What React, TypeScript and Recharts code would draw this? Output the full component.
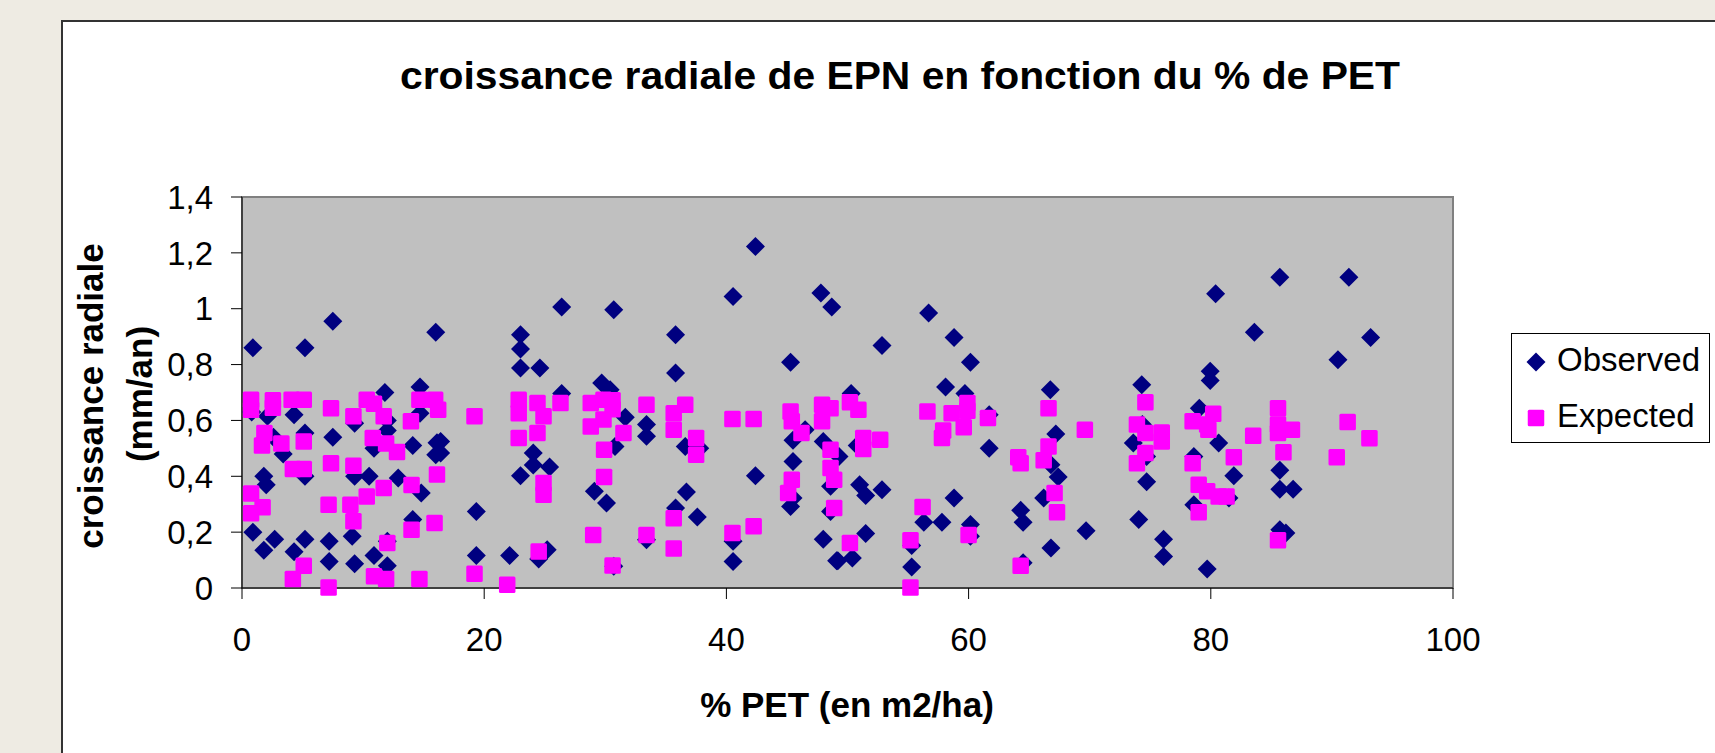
import React from "react";
import { ScatterChart, Scatter, XAxis, YAxis, CartesianGrid, ReferenceArea, Label } from "recharts";

// [% PET, croissance radiale]
const observedPoints = [
  [0.9, 0.86], [0.8, 0.63], [0.9, 0.2], [1.8, 0.4], [2.0, 0.37], [1.8, 0.135], [2.1, 0.615],
  [2.6, 0.54], [2.7, 0.175], [3.4, 0.48], [4.3, 0.62], [4.3, 0.13], [5.2, 0.86], [5.2, 0.555],
  [5.2, 0.4], [5.2, 0.175], [7.5, 0.955], [7.5, 0.54], [7.2, 0.167], [7.2, 0.095], [9.3, 0.59],
  [9.3, 0.4], [9.1, 0.185], [9.3, 0.087], [10.5, 0.4], [10.9, 0.5], [10.9, 0.116], [11.8, 0.7],
  [12.0, 0.6], [12.0, 0.564], [12.0, 0.167], [12.0, 0.08], [12.9, 0.394], [14.7, 0.72],
  [14.7, 0.626], [14.1, 0.51], [14.8, 0.34], [14.1, 0.245], [16.0, 0.916], [16.1, 0.52],
  [16.0, 0.477], [16.4, 0.525], [16.4, 0.483], [19.35, 0.274], [19.35, 0.116], [22.1, 0.116],
  [23.0, 0.907], [23.0, 0.856], [23.0, 0.788], [24.6, 0.788], [23.0, 0.402], [24.05, 0.483],
  [24.05, 0.44], [25.4, 0.433], [24.5, 0.104], [25.2, 0.137], [26.4, 1.006], [26.4, 0.696],
  [29.7, 0.734], [30.4, 0.71], [30.8, 0.507], [29.1, 0.346], [30.1, 0.304], [30.7, 0.996],
  [31.65, 0.611], [30.7, 0.078], [33.4, 0.585], [33.4, 0.543], [33.4, 0.173], [35.8, 0.907],
  [35.8, 0.77], [36.6, 0.507], [37.8, 0.5], [36.7, 0.344], [35.8, 0.286], [37.6, 0.254],
  [40.55, 1.044], [40.55, 0.167], [40.55, 0.095], [42.4, 1.223], [42.4, 0.402], [45.3, 0.808],
  [45.5, 0.529], [45.5, 0.453], [46.5, 0.567], [45.5, 0.322], [45.3, 0.292], [47.8, 1.056],
  [48.7, 1.006], [48.0, 0.525], [48.6, 0.364], [48.6, 0.274], [48.0, 0.175], [49.1, 0.098],
  [50.3, 0.696], [50.8, 0.51], [49.3, 0.471], [51.0, 0.37], [51.5, 0.331], [52.85, 0.352],
  [52.85, 0.868], [51.5, 0.195], [49.2, 0.098], [50.4, 0.107], [55.3, 0.152], [55.3, 0.075],
  [56.7, 0.985], [58.8, 0.897], [60.15, 0.808], [58.1, 0.72], [59.7, 0.696], [61.7, 0.62],
  [61.7, 0.5], [58.8, 0.322], [56.3, 0.235], [57.8, 0.235], [60.15, 0.227], [60.15, 0.185],
  [64.3, 0.278], [64.5, 0.235], [64.5, 0.09], [66.75, 0.71], [67.2, 0.551], [66.8, 0.441],
  [67.4, 0.397], [66.2, 0.322], [69.7, 0.205], [66.8, 0.143], [74.3, 0.728], [74.35, 0.585],
  [73.6, 0.519], [74.7, 0.471], [74.7, 0.38], [74.05, 0.245], [76.1, 0.175], [76.1, 0.113],
  [79.05, 0.644], [79.95, 0.776], [79.95, 0.743], [80.4, 1.054], [80.65, 0.519], [78.6, 0.471],
  [78.6, 0.298], [81.9, 0.402], [81.5, 0.322], [79.7, 0.068], [83.6, 0.916], [85.7, 1.113],
  [91.4, 1.113], [93.2, 0.897], [90.5, 0.817], [85.7, 0.422], [85.7, 0.354], [86.8, 0.354],
  [85.7, 0.209], [86.2, 0.197],
];

const expectedPoints = [
  [0.75, 0.674], [0.75, 0.638], [2.55, 0.672], [2.55, 0.645], [4.1, 0.674], [5.1, 0.674],
  [7.35, 0.644], [9.2, 0.615], [10.3, 0.674], [10.9, 0.66], [11.7, 0.615], [13.95, 0.597],
  [14.65, 0.674], [15.95, 0.674], [16.2, 0.638], [1.85, 0.555], [1.65, 0.51], [3.25, 0.517],
  [5.1, 0.525], [10.8, 0.537], [11.9, 0.517], [12.8, 0.487], [4.2, 0.426], [5.1, 0.426],
  [7.35, 0.447], [9.2, 0.438], [11.7, 0.358], [14.0, 0.369], [16.1, 0.406], [0.75, 0.338],
  [0.75, 0.268], [1.7, 0.289], [7.15, 0.298], [8.95, 0.298], [10.3, 0.328], [9.2, 0.239],
  [14.0, 0.209], [15.9, 0.233], [12.0, 0.161], [5.1, 0.08], [4.2, 0.032], [7.15, 0.002],
  [10.9, 0.042], [11.9, 0.032], [14.65, 0.032], [19.2, 0.615], [22.85, 0.674], [22.85, 0.626],
  [24.4, 0.662], [24.9, 0.615], [26.3, 0.662], [28.8, 0.662], [28.8, 0.578], [29.85, 0.674],
  [30.6, 0.672], [30.6, 0.64], [29.85, 0.603], [31.5, 0.555], [22.85, 0.537], [24.4, 0.555],
  [24.9, 0.376], [24.9, 0.334], [29.9, 0.495], [29.9, 0.397], [29.0, 0.19], [19.2, 0.051],
  [21.9, 0.012], [24.5, 0.131], [30.6, 0.081], [33.4, 0.656], [35.65, 0.626], [36.6, 0.656],
  [35.65, 0.567], [37.5, 0.537], [37.5, 0.477], [40.5, 0.605], [42.25, 0.605], [45.3, 0.632],
  [45.4, 0.597], [46.2, 0.555], [47.9, 0.656], [48.6, 0.644], [47.9, 0.597], [48.6, 0.495],
  [48.6, 0.43], [48.9, 0.388], [48.9, 0.286], [45.4, 0.388], [45.1, 0.34], [33.4, 0.19],
  [35.65, 0.25], [35.65, 0.141], [40.5, 0.197], [42.25, 0.221], [50.2, 0.665], [50.9, 0.638],
  [56.6, 0.632], [58.6, 0.626], [59.9, 0.662], [59.9, 0.635], [59.6, 0.576], [57.9, 0.564],
  [57.8, 0.537], [61.6, 0.609], [51.3, 0.537], [51.3, 0.498], [52.7, 0.531], [64.1, 0.468],
  [64.3, 0.447], [56.2, 0.29], [55.2, 0.171], [55.2, 0.002], [50.2, 0.161], [60.0, 0.19],
  [64.3, 0.08], [66.6, 0.644], [69.6, 0.567], [66.6, 0.507], [66.2, 0.457], [67.1, 0.34],
  [67.3, 0.271], [74.6, 0.665], [73.9, 0.585], [74.6, 0.555], [75.95, 0.557], [75.95, 0.525],
  [74.6, 0.483], [73.9, 0.447], [78.5, 0.597], [79.7, 0.585], [80.2, 0.624], [79.8, 0.567],
  [78.5, 0.447], [81.9, 0.468], [79.0, 0.37], [79.7, 0.346], [80.65, 0.328], [81.3, 0.328],
  [79.0, 0.271], [85.55, 0.644], [85.55, 0.585], [85.55, 0.555], [86.7, 0.567], [86.0, 0.486],
  [83.5, 0.545], [91.3, 0.594], [93.1, 0.536], [90.4, 0.468], [85.55, 0.171],
];

const xTicks = [0, 20, 40, 60, 80, 100];
const yTicks = [0, 0.2, 0.4, 0.6, 0.8, 1, 1.2, 1.4];
const seriesNames = ["Observed", "Expected"];
const chartTitle = "croissance radiale de EPN en fonction du % de PET";
const xTitle = "% PET (en m2/ha)";
const yTitle = ["croissance radiale", "(mm/an)"];

const FONT = '"Liberation Sans", Arial, sans-serif';
const NAVY = "#000080";
const MAGENTA = "#ff00ff";

const observed = observedPoints.map(([x, y]) => ({ x, y }));
const expected = expectedPoints.map(([x, y]) => ({ x, y }));

const Diamond = (props: any) => {
  const { cx, cy } = props;
  const r = 9.5;
  return <polygon points={`${cx},${cy - r} ${cx + r},${cy} ${cx},${cy + r} ${cx - r},${cy}`} fill={NAVY} />;
};

const Square = (props: any) => {
  const { cx, cy } = props;
  const s = 16.5;
  return <rect x={cx - s / 2} y={cy - s / 2} width={s} height={s} rx={1.5} fill={MAGENTA} />;
};

const fmt = (v: number) => String(v).replace(".", ",");

export default function App() {
  return (
    <div style={{ position: "absolute", left: 0, top: 0, width: 1715, height: 753, overflow: "hidden", background: "#eeebe3", fontFamily: FONT }}>
      {/* white chart box, cut by the page on the right and bottom */}
      <div style={{ position: "absolute", left: 61, top: 20, width: 1700, height: 760, background: "#fff", borderLeft: "2px solid #333", borderTop: "2px solid #333" }} />

      <div style={{ position: "absolute", left: 0, top: 0 }}>
        <ScatterChart width={1715} height={753} margin={{ top: 197, right: 262, bottom: 65, left: 62 }}>
          <CartesianGrid horizontal={false} vertical={false} fill="#c0c0c0" />
          <ReferenceArea x1={0} x2={100} y1={0} y2={1.4} fill="none" stroke="#808080" strokeWidth={2} />
          <XAxis
            type="number"
            dataKey="x"
            domain={[0, 100]}
            ticks={xTicks}
            interval={0}
            height={100}
            tickSize={11}
            tickMargin={29}
            axisLine={{ stroke: "#000" }}
            tickLine={{ stroke: "#000" }}
            tick={{ fill: "#000", fontSize: 33, fontFamily: FONT }}
          >
            <Label
              content={() => (
                <text x={847} y={717} textAnchor="middle" fontSize={35} fontWeight="bold" fontFamily={FONT} fill="#000">
                  {xTitle}
                </text>
              )}
            />
          </XAxis>
          <YAxis
            type="number"
            dataKey="y"
            domain={[0, 1.4]}
            ticks={yTicks}
            interval={0}
            width={180}
            tickSize={11}
            tickMargin={18}
            tickFormatter={fmt}
            axisLine={{ stroke: "#000" }}
            tickLine={{ stroke: "#000" }}
            tick={{ fill: "#000", fontSize: 33, fontFamily: FONT }}
          >
            <Label
              content={() => (
                <g fontSize={35} fontWeight="bold" fontFamily={FONT} fill="#000">
                  <text x={103} y={396} textAnchor="middle" transform="rotate(-90 103 396)">{yTitle[0]}</text>
                  <text x={152} y={394} textAnchor="middle" transform="rotate(-90 152 394)">{yTitle[1]}</text>
                </g>
              )}
            />
          </YAxis>
          <Scatter name={seriesNames[0]} data={observed} shape={Diamond} isAnimationActive={false} />
          <Scatter name={seriesNames[1]} data={expected} shape={Square} isAnimationActive={false} />
        </ScatterChart>
      </div>

      <svg width={1715} height={753} style={{ position: "absolute", left: 0, top: 0, pointerEvents: "none" }}>
        <text x={900} y={89} textAnchor="middle" fontSize={38} fontWeight="bold" fontFamily={FONT} textLength={1000} lengthAdjust="spacingAndGlyphs">
          {chartTitle}
        </text>
        <g transform="translate(1511,333)">
          <rect x={0.5} y={0.5} width={198} height={109} fill="#fff" stroke="#000" />
          <Diamond cx={25} cy={29} />
          <text x={46} y={38} fontSize={33} fontFamily={FONT}>{seriesNames[0]}</text>
          <Square cx={25} cy={85} />
          <text x={46} y={94} fontSize={33} fontFamily={FONT}>{seriesNames[1]}</text>
        </g>
      </svg>
    </div>
  );
}
